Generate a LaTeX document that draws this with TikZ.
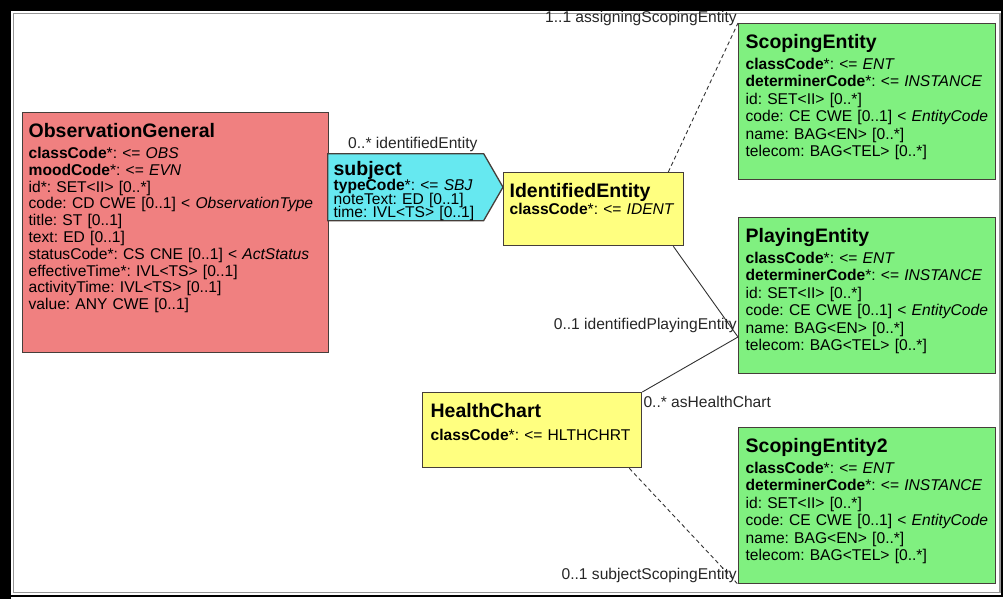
\documentclass[tikz,border=0pt]{standalone}
\usepackage{fontspec}
\setmainfont{Liberation Sans}
\usepackage{tikz}
\usetikzlibrary{calc}
\usetikzlibrary{shapes.symbols}

\definecolor{obsred}{RGB}{240,128,128}
\definecolor{subjcyan}{RGB}{102,232,240}
\definecolor{entyellow}{RGB}{255,255,128}
\definecolor{entgreen}{RGB}{128,240,128}
\definecolor{boxline}{RGB}{70,62,58}
\definecolor{assocline}{RGB}{50,50,50}
\definecolor{framegray}{RGB}{150,150,150}
\definecolor{framedark}{RGB}{0,0,0}

\newcommand{\clsname}[1]{{\fontsize{19.5}{19.5}\selectfont\bfseries #1}}
\newcommand{\entitybody}{%
\textbf{classCode}*: <= \textit{ENT}\\
\textbf{determinerCode}*: <= \textit{INSTANCE}\\
id: SET<II> [0..*]\\
code: CE CWE [0..1] < \textit{EntityCode}\\
name: BAG<EN> [0..*]\\
telecom: BAG<TEL> [0..*]}

\tikzset{
	classbox/.style={draw=boxline, line width=1.3pt, anchor=north west, align=left,
		inner xsep=6pt, inner ysep=6pt, text height=19pt, font=\fontsize{15.6}{17}\selectfont,
		execute at begin node={\frenchspacing\hyphenpenalty=10000\exhyphenpenalty=10000\lineskiplimit=-20pt}},
	entbox/.style={classbox, fill=entgreen, inner xsep=7pt, text width=243pt, text depth=125pt,
		font=\fontsize{15.6}{17.5}\selectfont},
	assoc/.style={draw=assocline, line width=0.9pt},
	assocdash/.style={assoc, dash pattern=on 4pt off 3pt},
	rolelabel/.style={font=\fontsize{15.6}{17}\selectfont, inner sep=1pt, text=black!85},
}

\begin{document}
\begin{tikzpicture}[x=1pt, y=-1pt]
			\useasboundingbox (0,0) rectangle (1008,599);

			% frame
			\draw[framedark, line width=11pt] (5.5,0)--(5.5,599);
			\draw[framedark, line width=11pt] (0,5.5)--(1003,5.5);
			\draw[framegray, line width=1.5pt] (13.5,13.5) rectangle (1000,592.5);
			\draw[framedark, line width=2pt] (1002,11)--(1002,596)--(11,596);

			\node[classbox, fill=obsred, text width=294pt, text depth=209pt,
				font=\fontsize{15.6}{16.8}\selectfont] (obs) at (22,112) {\clsname{ObservationGeneral}\\[4pt]
				\textbf{classCode}*: <= \textit{OBS}\\
				\textbf{moodCode}*: <= \textit{EVN}\\
				id*: SET<II> [0..*]\\
				code: CD CWE [0..1] < \textit{ObservationType}\\
				title: ST [0..1]\\
				text: ED [0..1]\\
				statusCode*: CS CNE [0..1] < \textit{ActStatus}\\
				effectiveTime*: IVL<TS> [0..1]\\
				activityTime: IVL<TS> [0..1]\\
				value: ANY CWE [0..1]};

			\node[classbox, signal, signal to=east, signal pointer angle=120, fill=subjcyan,
				inner xsep=6pt, inner ysep=5pt, text width=144pt, text height=17pt, text depth=40pt,
				font=\fontsize{15.6}{13.6}\selectfont] (subj) at (327,153) {\clsname{subject}\\[1.5pt]
				\textbf{typeCode}*: <= \textit{SBJ}\\
				noteText: ED [0..1]\\
				time: IVL<TS> [0..1]};

			\node[classbox, fill=entyellow, text width=168pt, text depth=42pt] (ident) at (503,172)
				{\clsname{IdentifiedEntity}\\ \textbf{classCode}*: <= \textit{IDENT}};

			\node[classbox, fill=entyellow, inner xsep=8pt, text width=203pt, text depth=44pt] (hc) at (422,392)
				{\clsname{HealthChart}\\[6pt] \textbf{classCode}*: <= HLTHCHRT};

			\node[entbox] (scope) at (738,23) {\clsname{ScopingEntity}\\[3pt] \entitybody};
			\node[entbox] (play) at (738,217) {\clsname{PlayingEntity}\\[3pt] \entitybody};
			\node[entbox] (scope2) at (738,427) {\clsname{ScopingEntity2}\\[3pt] \entitybody};

			\coordinate (pjoin) at ([yshift=-120pt]play.north west);

			\draw[assocdash] ([xshift=-16pt]ident.north east)--(scope.north west);
			\draw[assoc] ([xshift=-11pt]ident.south east)--(pjoin);
			\draw[assoc] (hc.north east)--(pjoin);
			\draw[assocdash] ([xshift=-13pt]hc.south east)--(scope2.south west);

			\node[rolelabel, anchor=south west] (lblident) at ([xshift=20pt]subj.north west) {0..* identifiedEntity};
			\node[rolelabel, anchor=south east] (lblscope) at ([yshift=-4pt]scope.north west) {1..1 assigningScopingEntity};
			\node[rolelabel, anchor=south east] (lblplay) at ([yshift=3pt]pjoin) {0..1 identifiedPlayingEntity};
			\node[rolelabel, anchor=north west] (lblhc) at ([yshift=-3pt]hc.north east) {0..* asHealthChart};
			\node[rolelabel, anchor=south east] (lblscope2) at (scope2.south west) {0..1 subjectScopingEntity};
		\end{tikzpicture}
\end{document}
